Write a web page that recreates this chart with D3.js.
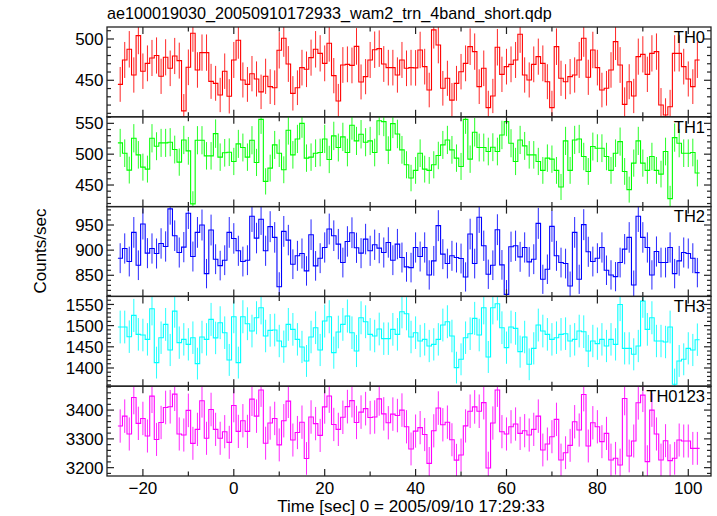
<!DOCTYPE html>
<html><head><meta charset="utf-8">
<script src="https://cdn.jsdelivr.net/npm/d3@7"></script>
<style>
body{margin:0;background:#fff}
svg{display:block}
text{font-family:"Liberation Sans",Arial,Helvetica,sans-serif;fill:#000}
</style>
</head><body>
<svg id="chart" width="717" height="516"></svg>
<script>
// ---------------- data ----------------
const chartTitle = "ae100019030_20050910172933_wam2_trn_4band_short.qdp";
const xAxisLabel = "Time [sec] 0 = 2005/09/10 17:29:33";
const yAxisLabel = "Counts/sec";
const panelNames = ["TH0", "TH1", "TH2", "TH3", "TH0123"];
const firstBinTime = -25;   // centre of first 1-s bin
const binWidth = 1;

const th0 = [445,474.6,487.5,456.4,504,461,470.5,477,480,454.8,
477.8,464.5,479.4,473.8,413,465.7,507,462.5,483.5,483.5,
448.7,446.3,432.2,461,430.6,474.6,498.4,450.4,445,458,
451.6,436,454.8,442.3,441,486.3,500.8,469.7,434.2,441,
465.3,463.3,477.4,487.5,482.6,470.5,494.8,455.6,425,468.5,
469.3,468,491,448,454.4,474.6,487,488.3,469.7,465.3,
465.3,456.4,474.6,464.5,
465.3,465,486.7,466.5,438.2,511,492.7,440.3,452.4,426,
446.3,460.4,470.5,490.7,484.7,442.3,464.5,416.9,431,490,
457.2,466.5,469.3,474.6,505.7,456.4,450.4,469.3,478.6,470.5,
448.3,416.9,490.7,452.4,448.3,454.4,456.4,474.6,500.8,453.6,
486.7,465.3,438.2,440.3,462.5,496.8,468.5,420.9,448.3,431,
478.6,481.4,457.2,482.6,484.7,420.1,408,418,482.6,482.6,
466.5,451.6,442.3,474.6];

const th1 = [518.3,501.6,474.2,525.8,498.9,479,475.8,525.8,512.9,518.3,
518.3,519.4,507.5,487.1,523,505.4,419.4,522.6,522.6,497.3,
497.3,533.3,495.2,502.2,503.2,488.2,516.7,510.8,495.2,522.6,
486.6,556.5,455.9,477.4,515,501.6,474.7,538.7,498.9,524.7,
550,493.6,495.2,501.6,502.7,524.7,491.4,529.6,510.8,528,
502.7,546.8,521.5,532.3,519.4,521.5,502.7,554.3,552.7,506.5,
549.5,532.8,507,482.8,
461.3,473.7,501.6,475.8,473.7,482.8,497.9,515,523.1,507,
493.6,480.1,556.5,491.9,535.5,510.8,510.8,504.3,511.3,504.3,
531.2,552.7,517.7,488.2,523.1,513.4,498.9,498.9,488.2,473.7,
493.6,491.9,473.7,446.8,521.5,473.7,523.1,524.7,496.2,472,
512.4,509.7,509.7,496.2,473.7,501.6,520.4,472,442.5,485.5,
521.5,485.5,473.7,496.2,473.7,467.7,504.3,428,526.9,517.7,
501.6,501.6,502.7,469.4];

const th2 = [884,903.3,877.3,935.3,870,952,894,903.3,893.3,913.3,
907.3,982,928.7,895.3,906,973.3,887.3,935.3,950,853.3,
940,882,869.3,880,935.3,923.3,898.7,877.3,880,967.3,
924,961.3,898.7,946.7,925.3,827.3,937.3,920,872,888.7,
893.3,858.7,930.7,868.7,884,905.3,942,928.7,912,875.3,
917.3,934.7,904.7,894,922,898.7,910.7,904,895.3,915.3,
880,912,885.3,866.7,
865.3,905.3,887.3,905.3,850.7,878.7,948.7,892,873.3,888.7,
885.3,883.3,846.7,932,873.3,965.3,908.7,852,870,940.7,
870.7,812,906.7,908.7,886.7,905.3,876.7,882,953.3,842,
862,947.3,888.7,875.3,873.3,828.7,935.3,842,950.7,896.7,
877.3,884,905.3,860,850.7,847.3,875.3,902,925.3,830.7,
967.3,925.3,905.3,850.7,897.3,875.3,875.3,905.3,853.3,878.7,
895.3,893.3,884,855.3];

const th3 = [1496.7,1496.7,1473.9,1524.1,1479.4,1477.8,1467.6,1539.8,1412.7,1471.5,
1502.9,1442.5,1534.3,1459.8,1467.6,1455.8,1471.5,1410.3,1473.1,1467.6,
1514.7,1471,1506.9,1483.3,1419,1521,1412.7,1521,1504.5,1487.2,
1518.6,1542.2,1475.5,1488.8,1489.6,1463.7,1450.3,1502.9,1491.2,1467.6,
1449.6,1416.6,1473.1,1495.1,1442.5,1510.8,1521,1436.2,1484.9,1502.9,
1522.6,1483.3,1440.1,1518.6,1509.2,1479.4,1475.5,1492,1469.2,1469.2,
1491.2,1479.4,1532.8,1528.1,
1473.1,1483.3,1463.7,1467.6,1451.9,1455.8,1467.6,1501.4,1509.2,1475.5,
1400.9,1420.5,1471.5,1481,1517.1,1477.8,1542.2,1426,1542.2,1551.6,
1495.1,1448,1496.7,1493.5,1438.6,1473.1,1408.8,1446.4,1501.4,1487.2,
1479.4,1467.6,1471.5,1479.4,1481,1463.7,1467.6,1487.2,1485.7,1440.1,
1463.7,1457.4,1467.6,1451.9,1467.6,1455.8,1550,1446.4,1446.4,1432.3,
1451.9,1557.9,1491.2,1518.6,1463.7,1463.7,1461.3,1496.7,1361.7,1416.6,
1420.5,1446.4,1442.5,1466.8];

const th0123 = [3344.6,3379,3317,3444,3354,3371,3310,3448.5,3298,3357,
3409,3411.6,3455.5,3317,3313.4,3399,3284.5,3333,3432.4,3302,
3402,3333,3302,3325,3288,3416,3326,3363,3326,3438,
3379,3470,3285,3355,3371,3279,3363,3431,3296,3322,
3358,3232,3376,3353,3312,3411,3449,3350,3333,3375,
3412,3433,3357,3393,3405,3374,3376,3439,3387,3356,
3386,3381,3400,3342,3265,3327,3339,3315,3215,3328,
3407,3349,3358,3297,3226,3244,3345,3396,3411,3396,
3426,3199,3355,3470,
3325,3317,3342,3351.5,3319,3328.4,3313.4,3333,3379,3261.4,
3282.2,3307.6,3367.7,3226.7,3252,3277.5,3359.6,3330.7,3454.3,3275.2,
3356,3342,3290.3,3319,3226.7,3232.5,3209.4,3440.5,3240.6,3292.6,
3425.4,3452,3221,3400,3317,3226.7,3293.7,3224.4,3232.5,3296,
3292.6,3292.6,3267,3267];

const seriesValues = [th0, th1, th2, th3, th0123];

// axis settings
const xDomain = [-27.9, 105];
const xMajorTicks = [-20, 0, 20, 40, 60, 80, 100];
const xMinorStep = 10;
const yDomains = [[405.8, 514.5], [415, 560.6], [808, 986.6], [1357, 1569], [3171, 3483]];
const yTickLabels = [[450, 500], [450, 500, 550], [850, 900, 950], [1400, 1450, 1500, 1550], [3200, 3300, 3400]];
const yMajorStep = [50, 50, 50, 50, 100];
const yMinorStep = [10, 10, 10, 10, 20];

// ---------------- style / layout ----------------
const colors = ["#ff0000", "#00ff00", "#0000ff", "#00ffff", "#ff00ff"];
const plotLeft = 107, plotRight = 711, plotTop = 27, panelH = 89.8;
const frameColor = "#222";
const labelSize = 17;

const svg = d3.select("#chart");
const x = d3.scaleLinear().domain(xDomain).range([plotLeft, plotRight]);

svg.append("text").attr("x", 107).attr("y", 18.5).attr("font-size", 16.2).text(chartTitle);

panelNames.forEach((name, p) => {
  const top = plotTop + p * panelH, bottom = top + panelH;
  const y = d3.scaleLinear().domain(yDomains[p]).range([bottom, top]);
  const vals = seriesValues[p];
  const rows = vals.map((v, i) => ({t: firstBinTime + i * binWidth, v: v, e: Math.sqrt(v)}));
  const g = svg.append("g");
  const clipId = "clip" + p;
  g.append("clipPath").attr("id", clipId).append("rect")
    .attr("x", plotLeft).attr("y", top).attr("width", plotRight - plotLeft).attr("height", panelH);
  const pg = g.append("g").attr("clip-path", `url(#${clipId})`);
  // error bars
  pg.selectAll("line.err").data(rows).enter().append("line")
    .attr("x1", d => x(d.t)).attr("x2", d => x(d.t))
    .attr("y1", d => y(d.v - d.e)).attr("y2", d => y(d.v + d.e))
    .attr("stroke", colors[p]).attr("stroke-width", 1).attr("stroke-opacity", 0.85);
  // histogram step line
  const pts = rows.map(d => [d.t - binWidth / 2, d.v]);
  pts.push([rows[rows.length - 1].t + binWidth / 2, rows[rows.length - 1].v]);
  const line = d3.line().x(d => x(d[0])).y(d => y(d[1])).curve(d3.curveStepAfter);
  pg.append("path").attr("d", line(pts)).attr("fill", "none")
    .attr("stroke", colors[p]).attr("stroke-width", 1.1);

  // frame
  g.append("rect").attr("x", plotLeft).attr("y", top).attr("width", plotRight - plotLeft).attr("height", panelH)
    .attr("fill", "none").attr("stroke", frameColor).attr("stroke-width", 1.3);

  // x ticks (top and bottom, inward)
  const xt = d3.range(Math.ceil(xDomain[0] / xMinorStep) * xMinorStep, xDomain[1] + 0.001, xMinorStep);
  xt.forEach(t => {
    const major = xMajorTicks.includes(t);
    const len = major ? 7 : 4.5;
    g.append("line").attr("x1", x(t)).attr("x2", x(t)).attr("y1", bottom).attr("y2", bottom - len)
      .attr("stroke", frameColor).attr("stroke-width", 1.2);
    g.append("line").attr("x1", x(t)).attr("x2", x(t)).attr("y1", top).attr("y2", top + len)
      .attr("stroke", frameColor).attr("stroke-width", 1.2);
  });
  // y ticks (left and right, inward)
  const [lo, hi] = yDomains[p];
  const yt = d3.range(Math.ceil(lo / yMinorStep[p]) * yMinorStep[p], hi, yMinorStep[p]);
  yt.forEach(v => {
    const major = Math.abs(v % yMajorStep[p]) < 1e-6;
    const len = major ? 7 : 4;
    g.append("line").attr("x1", plotLeft).attr("x2", plotLeft + len).attr("y1", y(v)).attr("y2", y(v))
      .attr("stroke", frameColor).attr("stroke-width", 1.2);
    g.append("line").attr("x1", plotRight).attr("x2", plotRight - len).attr("y1", y(v)).attr("y2", y(v))
      .attr("stroke", frameColor).attr("stroke-width", 1.2);
  });
  // y labels
  yTickLabels[p].forEach(v => {
    g.append("text").attr("x", 103.5).attr("y", y(v)).attr("dy", "0.36em")
      .attr("text-anchor", "end").attr("font-size", labelSize).text(v);
  });
  // panel name
  g.append("text").attr("x", 705).attr("y", top + 15.7).attr("text-anchor", "end")
    .attr("font-size", 16.5).text(name);
});

// x tick labels under the last panel
xMajorTicks.forEach(t => {
  svg.append("text").attr("x", x(t)).attr("y", 493.5).attr("text-anchor", "middle")
    .attr("font-size", labelSize).text(t < 0 ? "\u2212" + Math.abs(t) : t);
});
svg.append("text").attr("x", (plotLeft + plotRight) / 2 + 2).attr("y", 512).attr("text-anchor", "middle")
  .attr("font-size", labelSize).text(xAxisLabel);
svg.append("text").attr("transform", "translate(46,251) rotate(-90)").attr("text-anchor", "middle")
  .attr("font-size", labelSize).text(yAxisLabel);
</script>
</body></html>
